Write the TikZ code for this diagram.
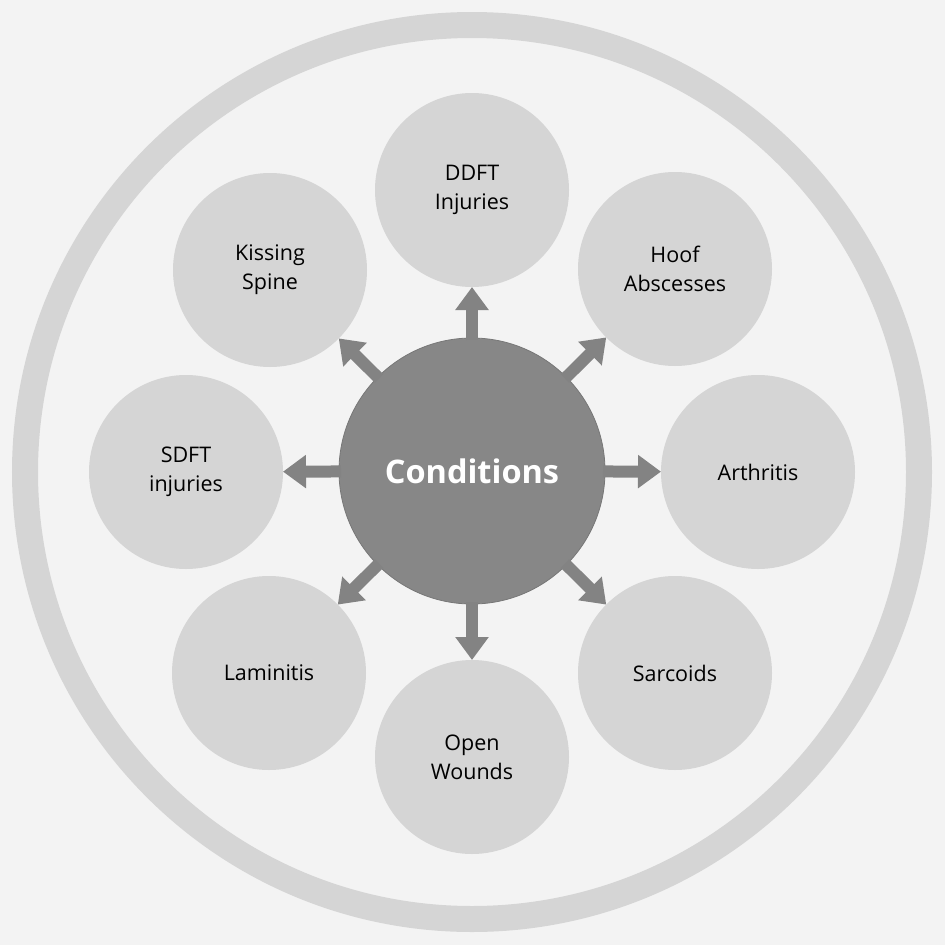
\documentclass[tikz,border=0pt]{standalone}
\usepackage{fontspec}
\setmainfont{Open Sans}
\usetikzlibrary{arrows.meta}
\definecolor{bg}{HTML}{F3F3F3}
\definecolor{ringc}{HTML}{D5D5D5}
\definecolor{satc}{HTML}{D5D5D5}
\definecolor{hubc}{HTML}{878787}
\definecolor{hubline}{HTML}{777777}
\definecolor{arrc}{HTML}{838383}
\tikzset{
  sat/.style={circle, fill=satc, draw=none, minimum size=194pt, inner sep=0pt, outer sep=0pt, align=center, font=\fontsize{21.5}{29}\selectfont, text=black},
  hub/.style={circle, fill=hubc, draw=hubline, line width=0.8pt, minimum size=266pt, inner sep=0pt, outer sep=0pt, font=\fontsize{32.5}{40}\selectfont\bfseries, text=white},
  spoke/.style={draw=arrc, line width=12pt, -{Triangle[width=32pt,length=23pt]}, shorten <=-2pt},
}
\begin{document}
\begin{tikzpicture}[x=1pt,y=-1pt]
\fill[bg] (0,0) rectangle (945,945);
\useasboundingbox (0,0) rectangle (945,945);
\draw[ringc, line width=26pt] (472,472) circle[radius=447];
\node[hub] (c) at (472,471) {Conditions};
\node[sat] (s1) at (472,190) {DDFT\\Injuries};
\node[sat] (s2) at (675,269) {Hoof\\Abscesses};
\node[sat] (s3) at (758,472) {Arthritis};
\node[sat] (s4) at (675,673) {Sarcoids};
\node[sat] (s5) at (472,757) {Open\\Wounds};
\node[sat] (s6) at (269,673) {Laminitis};
\node[sat] (s7) at (186,472) {SDFT\\injuries};
\node[sat] (s8) at (270,270) {Kissing\\Spine};
\foreach \s in {s1,s2,s3,s4,s5,s6,s7,s8}{
  \draw[spoke] (c) -- (\s);
}
\end{tikzpicture}
\end{document}
